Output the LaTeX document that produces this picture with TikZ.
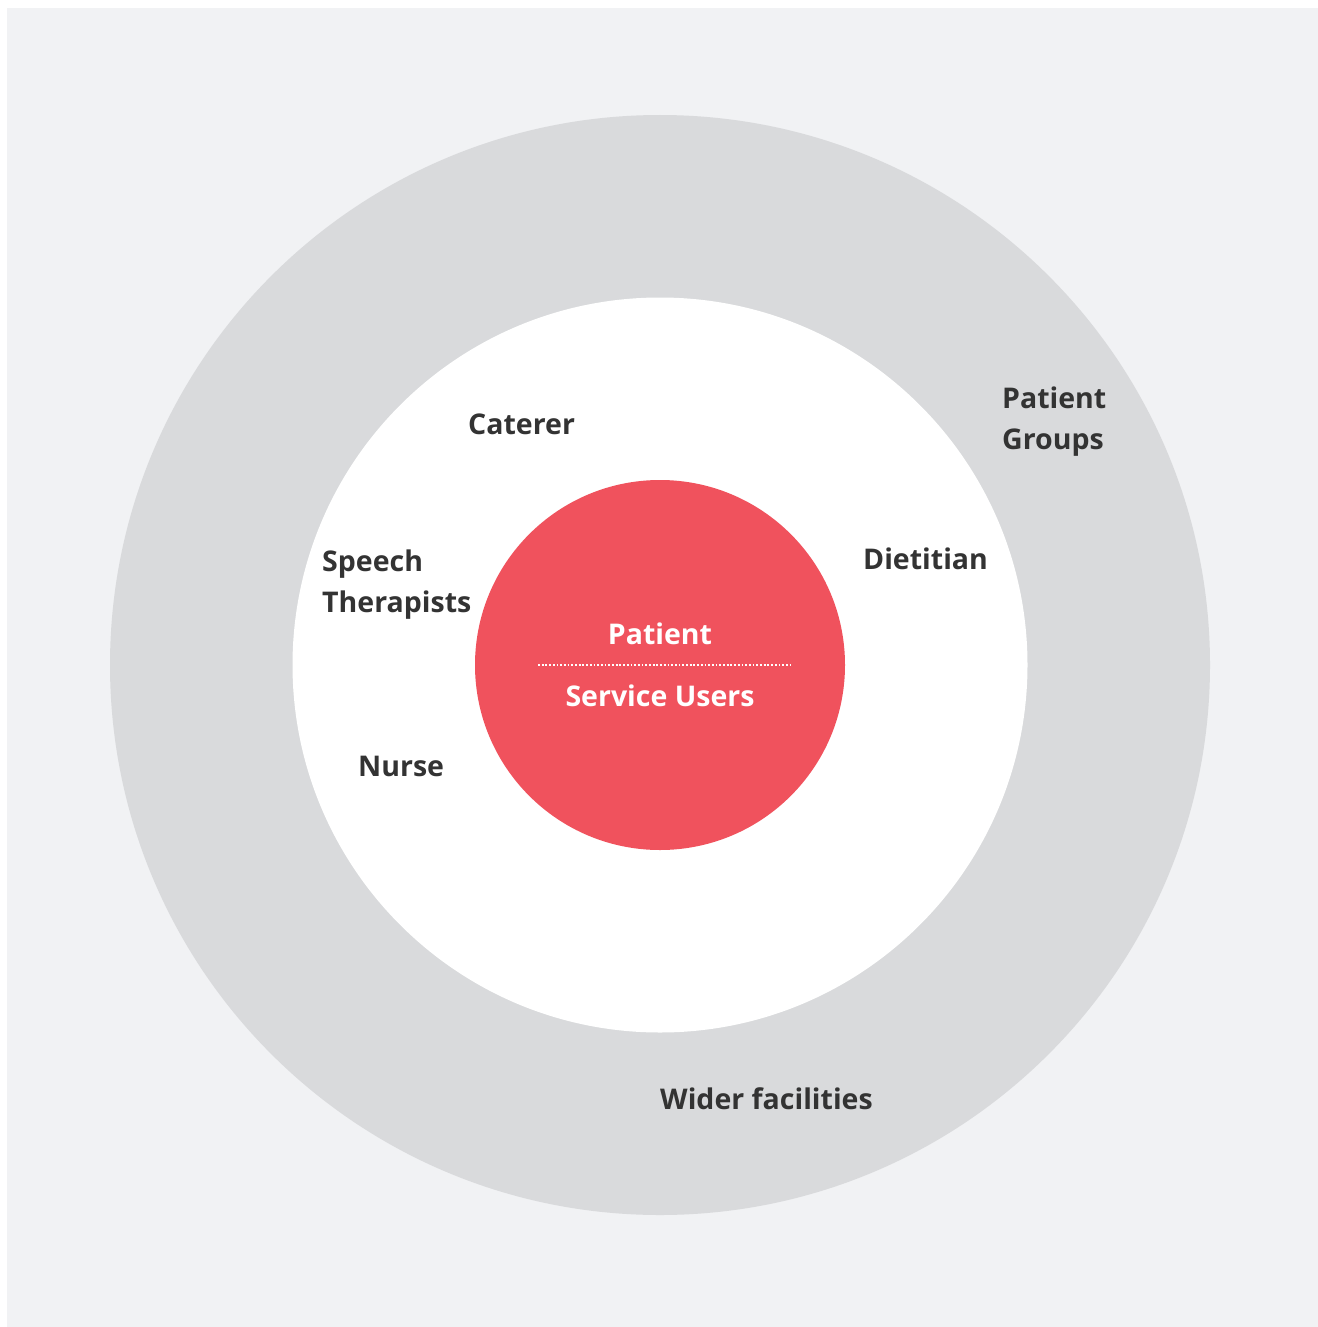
\documentclass[tikz,border=0pt]{standalone}
\usepackage{fontspec}
\setmainfont{Open Sans}
\definecolor{bggray}{HTML}{F1F2F4}
\definecolor{ringgray}{HTML}{D9DADC}
\definecolor{corered}{HTML}{F0525D}
\definecolor{txtdark}{HTML}{333333}
\begin{document}
\begin{tikzpicture}[x=1pt,y=-1pt,
  lbl/.style={font=\fontsize{28.5}{41}\selectfont\bfseries, text=txtdark, inner sep=0pt, anchor=base west, align=left},
  clbl/.style={font=\fontsize{28.5}{41}\selectfont\bfseries, text=white, inner sep=0pt, anchor=base}]
\useasboundingbox (0,0) rectangle (1317,1327);
\fill[white] (0,0) rectangle (1317,1327);
\fill[bggray] (7,8) rectangle (1318,1328);
\fill[ringgray] (660,665) circle (550);
\fill[white] (660,665) circle (367.5);
\fill[corered] (660,665) circle (185);
\coordinate (dl) at (538,665);
\coordinate (dr) at (790,665);
\draw[white, line width=2pt, dash pattern=on 1.8pt off 1.9pt] (dl) -- (dr);
\node[clbl] (patient) at (660,644) {Patient};
\node[clbl] (service) at (660,706) {Service Users};
\node[lbl] (caterer) at (468,434) {Caterer};
\node[lbl] (speech) at (322,571) {Speech};
\node[lbl] (therap) at (322,612) {Therapists};
\node[lbl] (diet) at (863,569) {Dietitian};
\node[lbl] (nurse) at (358,776) {Nurse};
\node[lbl] (pg1) at (1002,408) {Patient};
\node[lbl] (pg2) at (1002,449) {Groups};
\node[lbl] (wider) at (660,1109) {Wider facilities};
\end{tikzpicture}
\end{document}
